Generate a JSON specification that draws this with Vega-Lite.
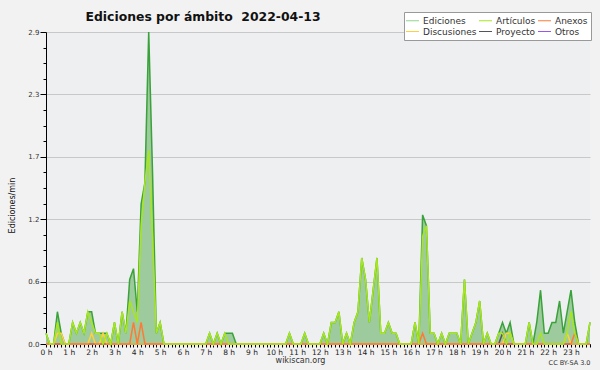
{
"$schema": "https://vega.github.io/schema/vega-lite/v6.json",
"width": 544, "height": 312,
"autosize": {"type": "none"},
"padding": {"left": 46, "top": 32, "right": 10, "bottom": 26},
"background": "#f2f2f2",
"config": {
  "view": {"fill": "#eeeff1", "stroke": null},
  "axis": {"labelFont": "DejaVu Sans", "titleFont": "DejaVu Sans", "zindex": 1}
},
"data": {"values": [
{"m":0,"Ediciones":0.1,"Artículos":0.1,"Anexos":0,"Discusiones":0,"Proyecto":0,"Otros":0},
{"m":10,"Ediciones":0,"Artículos":0,"Anexos":0,"Discusiones":0,"Proyecto":0,"Otros":0},
{"m":20,"Ediciones":0,"Artículos":0,"Anexos":0,"Discusiones":0,"Proyecto":0,"Otros":0},
{"m":30,"Ediciones":0.3,"Artículos":0.2,"Anexos":0,"Discusiones":0.1,"Proyecto":0,"Otros":0},
{"m":40,"Ediciones":0.1,"Artículos":0,"Anexos":0,"Discusiones":0.1,"Proyecto":0,"Otros":0},
{"m":50,"Ediciones":0,"Artículos":0,"Anexos":0,"Discusiones":0,"Proyecto":0,"Otros":0},
{"m":60,"Ediciones":0,"Artículos":0,"Anexos":0,"Discusiones":0,"Proyecto":0,"Otros":0},
{"m":70,"Ediciones":0.2,"Artículos":0.2,"Anexos":0,"Discusiones":0,"Proyecto":0,"Otros":0},
{"m":80,"Ediciones":0.1,"Artículos":0.1,"Anexos":0,"Discusiones":0,"Proyecto":0,"Otros":0},
{"m":90,"Ediciones":0.2,"Artículos":0.2,"Anexos":0,"Discusiones":0,"Proyecto":0,"Otros":0},
{"m":100,"Ediciones":0.1,"Artículos":0.1,"Anexos":0,"Discusiones":0,"Proyecto":0,"Otros":0},
{"m":110,"Ediciones":0.3,"Artículos":0.3,"Anexos":0,"Discusiones":0,"Proyecto":0,"Otros":0},
{"m":120,"Ediciones":0.3,"Artículos":0.2,"Anexos":0,"Discusiones":0.1,"Proyecto":0,"Otros":0},
{"m":130,"Ediciones":0.1,"Artículos":0.1,"Anexos":0,"Discusiones":0,"Proyecto":0,"Otros":0},
{"m":140,"Ediciones":0.1,"Artículos":0.1,"Anexos":0,"Discusiones":0,"Proyecto":0,"Otros":0},
{"m":150,"Ediciones":0.1,"Artículos":0,"Anexos":0,"Discusiones":0.1,"Proyecto":0,"Otros":0},
{"m":160,"Ediciones":0.1,"Artículos":0.1,"Anexos":0,"Discusiones":0,"Proyecto":0,"Otros":0},
{"m":170,"Ediciones":0,"Artículos":0,"Anexos":0,"Discusiones":0,"Proyecto":0,"Otros":0},
{"m":180,"Ediciones":0.2,"Artículos":0.2,"Anexos":0,"Discusiones":0,"Proyecto":0,"Otros":0},
{"m":190,"Ediciones":0,"Artículos":0,"Anexos":0,"Discusiones":0,"Proyecto":0,"Otros":0},
{"m":200,"Ediciones":0.3,"Artículos":0.3,"Anexos":0,"Discusiones":0,"Proyecto":0,"Otros":0},
{"m":210,"Ediciones":0.1,"Artículos":0.1,"Anexos":0,"Discusiones":0,"Proyecto":0,"Otros":0},
{"m":220,"Ediciones":0.6,"Artículos":0.4,"Anexos":0,"Discusiones":0,"Proyecto":0,"Otros":0},
{"m":230,"Ediciones":0.7,"Artículos":0.3,"Anexos":0.2,"Discusiones":0,"Proyecto":0,"Otros":0},
{"m":240,"Ediciones":0.3,"Artículos":0.2,"Anexos":0,"Discusiones":0,"Proyecto":0,"Otros":0},
{"m":250,"Ediciones":1.3,"Artículos":1.1,"Anexos":0.2,"Discusiones":0,"Proyecto":0,"Otros":0},
{"m":260,"Ediciones":1.5,"Artículos":1.5,"Anexos":0,"Discusiones":0,"Proyecto":0,"Otros":0},
{"m":270,"Ediciones":2.9,"Artículos":1.8,"Anexos":0,"Discusiones":0,"Proyecto":0,"Otros":0},
{"m":280,"Ediciones":1.6,"Artículos":1.0,"Anexos":0,"Discusiones":0,"Proyecto":0,"Otros":0},
{"m":290,"Ediciones":0.1,"Artículos":0.1,"Anexos":0,"Discusiones":0,"Proyecto":0,"Otros":0},
{"m":300,"Ediciones":0.2,"Artículos":0.2,"Anexos":0,"Discusiones":0,"Proyecto":0,"Otros":0},
{"m":310,"Ediciones":0,"Artículos":0,"Anexos":0,"Discusiones":0,"Proyecto":0,"Otros":0},
{"m":320,"Ediciones":0,"Artículos":0,"Anexos":0,"Discusiones":0,"Proyecto":0,"Otros":0},
{"m":330,"Ediciones":0,"Artículos":0,"Anexos":0,"Discusiones":0,"Proyecto":0,"Otros":0},
{"m":340,"Ediciones":0,"Artículos":0,"Anexos":0,"Discusiones":0,"Proyecto":0,"Otros":0},
{"m":350,"Ediciones":0,"Artículos":0,"Anexos":0,"Discusiones":0,"Proyecto":0,"Otros":0},
{"m":360,"Ediciones":0,"Artículos":0,"Anexos":0,"Discusiones":0,"Proyecto":0,"Otros":0},
{"m":370,"Ediciones":0,"Artículos":0,"Anexos":0,"Discusiones":0,"Proyecto":0,"Otros":0},
{"m":380,"Ediciones":0,"Artículos":0,"Anexos":0,"Discusiones":0,"Proyecto":0,"Otros":0},
{"m":390,"Ediciones":0,"Artículos":0,"Anexos":0,"Discusiones":0,"Proyecto":0,"Otros":0},
{"m":400,"Ediciones":0,"Artículos":0,"Anexos":0,"Discusiones":0,"Proyecto":0,"Otros":0},
{"m":410,"Ediciones":0,"Artículos":0,"Anexos":0,"Discusiones":0,"Proyecto":0,"Otros":0},
{"m":420,"Ediciones":0,"Artículos":0,"Anexos":0,"Discusiones":0,"Proyecto":0,"Otros":0},
{"m":430,"Ediciones":0.1,"Artículos":0.1,"Anexos":0,"Discusiones":0,"Proyecto":0,"Otros":0},
{"m":440,"Ediciones":0,"Artículos":0,"Anexos":0,"Discusiones":0,"Proyecto":0,"Otros":0},
{"m":450,"Ediciones":0.1,"Artículos":0.1,"Anexos":0,"Discusiones":0,"Proyecto":0,"Otros":0},
{"m":460,"Ediciones":0,"Artículos":0,"Anexos":0,"Discusiones":0,"Proyecto":0,"Otros":0},
{"m":470,"Ediciones":0.1,"Artículos":0.1,"Anexos":0,"Discusiones":0,"Proyecto":0,"Otros":0},
{"m":480,"Ediciones":0.1,"Artículos":0,"Anexos":0,"Discusiones":0,"Proyecto":0,"Otros":0},
{"m":490,"Ediciones":0.1,"Artículos":0,"Anexos":0,"Discusiones":0,"Proyecto":0,"Otros":0},
{"m":500,"Ediciones":0,"Artículos":0,"Anexos":0,"Discusiones":0,"Proyecto":0,"Otros":0},
{"m":510,"Ediciones":0,"Artículos":0,"Anexos":0,"Discusiones":0,"Proyecto":0,"Otros":0},
{"m":520,"Ediciones":0,"Artículos":0,"Anexos":0,"Discusiones":0,"Proyecto":0,"Otros":0},
{"m":530,"Ediciones":0,"Artículos":0,"Anexos":0,"Discusiones":0,"Proyecto":0,"Otros":0},
{"m":540,"Ediciones":0,"Artículos":0,"Anexos":0,"Discusiones":0,"Proyecto":0,"Otros":0},
{"m":550,"Ediciones":0,"Artículos":0,"Anexos":0,"Discusiones":0,"Proyecto":0,"Otros":0},
{"m":560,"Ediciones":0,"Artículos":0,"Anexos":0,"Discusiones":0,"Proyecto":0,"Otros":0},
{"m":570,"Ediciones":0,"Artículos":0,"Anexos":0,"Discusiones":0,"Proyecto":0,"Otros":0},
{"m":580,"Ediciones":0,"Artículos":0,"Anexos":0,"Discusiones":0,"Proyecto":0,"Otros":0},
{"m":590,"Ediciones":0,"Artículos":0,"Anexos":0,"Discusiones":0,"Proyecto":0,"Otros":0},
{"m":600,"Ediciones":0,"Artículos":0,"Anexos":0,"Discusiones":0,"Proyecto":0,"Otros":0},
{"m":610,"Ediciones":0,"Artículos":0,"Anexos":0,"Discusiones":0,"Proyecto":0,"Otros":0},
{"m":620,"Ediciones":0,"Artículos":0,"Anexos":0,"Discusiones":0,"Proyecto":0,"Otros":0},
{"m":630,"Ediciones":0,"Artículos":0,"Anexos":0,"Discusiones":0,"Proyecto":0,"Otros":0},
{"m":640,"Ediciones":0.1,"Artículos":0.1,"Anexos":0,"Discusiones":0,"Proyecto":0,"Otros":0},
{"m":650,"Ediciones":0,"Artículos":0,"Anexos":0,"Discusiones":0,"Proyecto":0,"Otros":0},
{"m":660,"Ediciones":0,"Artículos":0,"Anexos":0,"Discusiones":0,"Proyecto":0,"Otros":0},
{"m":670,"Ediciones":0,"Artículos":0,"Anexos":0,"Discusiones":0,"Proyecto":0,"Otros":0},
{"m":680,"Ediciones":0.1,"Artículos":0.1,"Anexos":0,"Discusiones":0,"Proyecto":0,"Otros":0},
{"m":690,"Ediciones":0,"Artículos":0,"Anexos":0,"Discusiones":0,"Proyecto":0,"Otros":0},
{"m":700,"Ediciones":0,"Artículos":0,"Anexos":0,"Discusiones":0,"Proyecto":0,"Otros":0},
{"m":710,"Ediciones":0,"Artículos":0,"Anexos":0,"Discusiones":0,"Proyecto":0,"Otros":0},
{"m":720,"Ediciones":0,"Artículos":0,"Anexos":0,"Discusiones":0,"Proyecto":0,"Otros":0},
{"m":730,"Ediciones":0.1,"Artículos":0.1,"Anexos":0,"Discusiones":0,"Proyecto":0,"Otros":0},
{"m":740,"Ediciones":0,"Artículos":0,"Anexos":0,"Discusiones":0,"Proyecto":0,"Otros":0},
{"m":750,"Ediciones":0.2,"Artículos":0.2,"Anexos":0,"Discusiones":0,"Proyecto":0,"Otros":0},
{"m":760,"Ediciones":0.2,"Artículos":0.2,"Anexos":0,"Discusiones":0,"Proyecto":0,"Otros":0},
{"m":770,"Ediciones":0.3,"Artículos":0.3,"Anexos":0,"Discusiones":0,"Proyecto":0,"Otros":0},
{"m":780,"Ediciones":0,"Artículos":0,"Anexos":0,"Discusiones":0,"Proyecto":0,"Otros":0},
{"m":790,"Ediciones":0.1,"Artículos":0.1,"Anexos":0,"Discusiones":0,"Proyecto":0,"Otros":0},
{"m":800,"Ediciones":0,"Artículos":0,"Anexos":0,"Discusiones":0,"Proyecto":0,"Otros":0},
{"m":810,"Ediciones":0.2,"Artículos":0.2,"Anexos":0,"Discusiones":0,"Proyecto":0,"Otros":0},
{"m":820,"Ediciones":0.3,"Artículos":0.3,"Anexos":0,"Discusiones":0,"Proyecto":0,"Otros":0},
{"m":830,"Ediciones":0.8,"Artículos":0.8,"Anexos":0,"Discusiones":0,"Proyecto":0,"Otros":0},
{"m":840,"Ediciones":0.6,"Artículos":0.6,"Anexos":0,"Discusiones":0,"Proyecto":0,"Otros":0},
{"m":850,"Ediciones":0.2,"Artículos":0.2,"Anexos":0,"Discusiones":0,"Proyecto":0,"Otros":0},
{"m":860,"Ediciones":0.5,"Artículos":0.5,"Anexos":0,"Discusiones":0,"Proyecto":0,"Otros":0},
{"m":870,"Ediciones":0.8,"Artículos":0.8,"Anexos":0,"Discusiones":0,"Proyecto":0,"Otros":0},
{"m":880,"Ediciones":0.1,"Artículos":0.1,"Anexos":0,"Discusiones":0,"Proyecto":0,"Otros":0},
{"m":890,"Ediciones":0.1,"Artículos":0.1,"Anexos":0,"Discusiones":0,"Proyecto":0,"Otros":0},
{"m":900,"Ediciones":0.2,"Artículos":0.2,"Anexos":0,"Discusiones":0,"Proyecto":0,"Otros":0},
{"m":910,"Ediciones":0.1,"Artículos":0.1,"Anexos":0,"Discusiones":0,"Proyecto":0,"Otros":0},
{"m":920,"Ediciones":0.1,"Artículos":0.1,"Anexos":0,"Discusiones":0,"Proyecto":0,"Otros":0},
{"m":930,"Ediciones":0,"Artículos":0,"Anexos":0,"Discusiones":0,"Proyecto":0,"Otros":0},
{"m":940,"Ediciones":0,"Artículos":0,"Anexos":0,"Discusiones":0,"Proyecto":0,"Otros":0},
{"m":950,"Ediciones":0,"Artículos":0,"Anexos":0,"Discusiones":0,"Proyecto":0,"Otros":0},
{"m":960,"Ediciones":0,"Artículos":0,"Anexos":0,"Discusiones":0,"Proyecto":0,"Otros":0},
{"m":970,"Ediciones":0.2,"Artículos":0.2,"Anexos":0,"Discusiones":0,"Proyecto":0,"Otros":0},
{"m":980,"Ediciones":0,"Artículos":0,"Anexos":0,"Discusiones":0,"Proyecto":0,"Otros":0},
{"m":990,"Ediciones":1.2,"Artículos":1.0,"Anexos":0.1,"Discusiones":0,"Proyecto":0,"Otros":0},
{"m":1000,"Ediciones":1.1,"Artículos":1.1,"Anexos":0,"Discusiones":0,"Proyecto":0,"Otros":0},
{"m":1010,"Ediciones":0.1,"Artículos":0.1,"Anexos":0,"Discusiones":0,"Proyecto":0,"Otros":0},
{"m":1020,"Ediciones":0.1,"Artículos":0.1,"Anexos":0,"Discusiones":0,"Proyecto":0,"Otros":0},
{"m":1030,"Ediciones":0,"Artículos":0,"Anexos":0,"Discusiones":0,"Proyecto":0,"Otros":0},
{"m":1040,"Ediciones":0.1,"Artículos":0.1,"Anexos":0,"Discusiones":0,"Proyecto":0,"Otros":0},
{"m":1050,"Ediciones":0,"Artículos":0,"Anexos":0,"Discusiones":0,"Proyecto":0,"Otros":0},
{"m":1060,"Ediciones":0.1,"Artículos":0.1,"Anexos":0,"Discusiones":0,"Proyecto":0,"Otros":0},
{"m":1070,"Ediciones":0.1,"Artículos":0.1,"Anexos":0,"Discusiones":0,"Proyecto":0,"Otros":0},
{"m":1080,"Ediciones":0.1,"Artículos":0.1,"Anexos":0,"Discusiones":0,"Proyecto":0,"Otros":0},
{"m":1090,"Ediciones":0,"Artículos":0,"Anexos":0,"Discusiones":0,"Proyecto":0,"Otros":0},
{"m":1100,"Ediciones":0.6,"Artículos":0.6,"Anexos":0,"Discusiones":0,"Proyecto":0,"Otros":0},
{"m":1110,"Ediciones":0,"Artículos":0,"Anexos":0,"Discusiones":0,"Proyecto":0,"Otros":0},
{"m":1120,"Ediciones":0.1,"Artículos":0.1,"Anexos":0,"Discusiones":0,"Proyecto":0,"Otros":0},
{"m":1130,"Ediciones":0.2,"Artículos":0.2,"Anexos":0,"Discusiones":0,"Proyecto":0,"Otros":0},
{"m":1140,"Ediciones":0.4,"Artículos":0.4,"Anexos":0,"Discusiones":0,"Proyecto":0,"Otros":0},
{"m":1150,"Ediciones":0,"Artículos":0,"Anexos":0,"Discusiones":0,"Proyecto":0,"Otros":0},
{"m":1160,"Ediciones":0.1,"Artículos":0.1,"Anexos":0,"Discusiones":0,"Proyecto":0,"Otros":0},
{"m":1170,"Ediciones":0,"Artículos":0,"Anexos":0,"Discusiones":0,"Proyecto":0,"Otros":0},
{"m":1180,"Ediciones":0,"Artículos":0,"Anexos":0,"Discusiones":0,"Proyecto":0,"Otros":0},
{"m":1190,"Ediciones":0.1,"Artículos":0.1,"Anexos":0,"Discusiones":0,"Proyecto":0,"Otros":0},
{"m":1200,"Ediciones":0.2,"Artículos":0.1,"Anexos":0,"Discusiones":0,"Proyecto":0.1,"Otros":0},
{"m":1210,"Ediciones":0.1,"Artículos":0,"Anexos":0,"Discusiones":0.1,"Proyecto":0,"Otros":0},
{"m":1220,"Ediciones":0.2,"Artículos":0.1,"Anexos":0,"Discusiones":0.1,"Proyecto":0,"Otros":0},
{"m":1230,"Ediciones":0,"Artículos":0,"Anexos":0,"Discusiones":0,"Proyecto":0,"Otros":0},
{"m":1240,"Ediciones":0,"Artículos":0,"Anexos":0,"Discusiones":0,"Proyecto":0,"Otros":0},
{"m":1250,"Ediciones":0,"Artículos":0,"Anexos":0,"Discusiones":0,"Proyecto":0,"Otros":0},
{"m":1260,"Ediciones":0,"Artículos":0,"Anexos":0,"Discusiones":0,"Proyecto":0,"Otros":0},
{"m":1270,"Ediciones":0.2,"Artículos":0.2,"Anexos":0,"Discusiones":0,"Proyecto":0,"Otros":0},
{"m":1280,"Ediciones":0,"Artículos":0,"Anexos":0,"Discusiones":0,"Proyecto":0,"Otros":0},
{"m":1290,"Ediciones":0.2,"Artículos":0,"Anexos":0,"Discusiones":0,"Proyecto":0,"Otros":0},
{"m":1300,"Ediciones":0.5,"Artículos":0.1,"Anexos":0,"Discusiones":0,"Proyecto":0,"Otros":0},
{"m":1310,"Ediciones":0.1,"Artículos":0,"Anexos":0,"Discusiones":0,"Proyecto":0,"Otros":0},
{"m":1320,"Ediciones":0.1,"Artículos":0,"Anexos":0,"Discusiones":0,"Proyecto":0,"Otros":0},
{"m":1330,"Ediciones":0.2,"Artículos":0,"Anexos":0,"Discusiones":0,"Proyecto":0,"Otros":0},
{"m":1340,"Ediciones":0.2,"Artículos":0,"Anexos":0,"Discusiones":0,"Proyecto":0,"Otros":0},
{"m":1350,"Ediciones":0.4,"Artículos":0,"Anexos":0,"Discusiones":0,"Proyecto":0,"Otros":0},
{"m":1360,"Ediciones":0.1,"Artículos":0,"Anexos":0,"Discusiones":0,"Proyecto":0,"Otros":0},
{"m":1370,"Ediciones":0.3,"Artículos":0.1,"Anexos":0,"Discusiones":0.1,"Proyecto":0,"Otros":0},
{"m":1380,"Ediciones":0.5,"Artículos":0.3,"Anexos":0,"Discusiones":0,"Proyecto":0,"Otros":0},
{"m":1390,"Ediciones":0.2,"Artículos":0.1,"Anexos":0.1,"Discusiones":0,"Proyecto":0,"Otros":0},
{"m":1400,"Ediciones":0,"Artículos":0,"Anexos":0,"Discusiones":0,"Proyecto":0,"Otros":0},
{"m":1410,"Ediciones":0,"Artículos":0,"Anexos":0,"Discusiones":0,"Proyecto":0,"Otros":0},
{"m":1420,"Ediciones":0,"Artículos":0,"Anexos":0,"Discusiones":0,"Proyecto":0,"Otros":0},
{"m":1430,"Ediciones":0.2,"Artículos":0.2,"Anexos":0,"Discusiones":0,"Proyecto":0,"Otros":0}
]},
"layer": [
  {"mark": {"type": "area", "color": "#9dcb9d", "opacity": 1},
   "encoding": {
    "x": {"field": "m", "type": "quantitative", "scale": {"domain": [0, 1430], "nice": false, "zero": false},
     "axis": {"values": [0,10,20,30,40,50,60,70,80,90,100,110,120,130,140,150,160,170,180,190,200,210,220,230,240,250,260,270,280,290,300,310,320,330,340,350,360,370,380,390,400,410,420,430,440,450,460,470,480,490,500,510,520,530,540,550,560,570,580,590,600,610,620,630,640,650,660,670,680,690,700,710,720,730,740,750,760,770,780,790,800,810,820,830,840,850,860,870,880,890,900,910,920,930,940,950,960,970,980,990,1000,1010,1020,1030,1040,1050,1060,1070,1080,1090,1100,1110,1120,1130,1140,1150,1160,1170,1180,1190,1200,1210,1220,1230,1240,1250,1260,1270,1280,1290,1300,1310,1320,1330,1340,1350,1360,1370,1380,1390,1400,1410,1420,1430],
      "labelExpr": "datum.value % 60 == 0 ? (datum.value / 60) + ' h' : ''",
      "labelOverlap": false, "labelFlush": false, "labelFontSize": 7.5, "labelColor": "#222222", "labelPadding": 1,
      "tickSize": 3, "tickColor": "#000000", "domainColor": "#000000", "grid": false,
      "title": "wikiscan.org", "titleFontSize": 8, "titleFontWeight": "normal", "titleColor": "#333333",
      "titleX": 254, "titleY": 12, "titleAlign": "center", "titleBaseline": "top"}},
    "y": {"field": "Ediciones", "type": "quantitative", "scale": {"domain": [0, 2.9], "nice": false},
     "axis": {"values": [0,0.145,0.29,0.435,0.58,0.725,0.87,1.015,1.16,1.305,1.45,1.595,1.74,1.885,2.03,2.175,2.32,2.465,2.61,2.755,2.9],
       "labelExpr": "abs(datum.value/0.58 - round(datum.value/0.58)) < 0.01 ? format(datum.value, '.1f') : ''",
       "tickSize": {"condition": {"test": "abs(datum.value/0.58 - round(datum.value/0.58)) < 0.01", "value": 6}, "value": 3},
       "gridOpacity": {"condition": {"test": "abs(datum.value/0.58 - round(datum.value/0.58)) < 0.01", "value": 1}, "value": 0},
       "grid": true, "gridColor": "#c8c8c8", "gridWidth": 1,
       "labelOverlap": false, "labelFontSize": 7, "labelColor": "#333333", "labelPadding": 1,
       "tickColor": "#000000", "domainColor": "#000000",
       "title": "Ediciones/min", "titleFontSize": 8, "titleFontWeight": "normal", "titleColor": "#111111",
       "titleAngle": 270, "titleX": -32, "titleY": 173, "titleAlign": "center", "titleBaseline": "alphabetic"}}}},
  {"mark": {"type": "line", "color": "#3aa23a", "strokeWidth": 1.5},
   "encoding": {
    "x": {"field": "m", "type": "quantitative", "scale": {"domain": [0, 1430], "nice": false, "zero": false}, "axis": null},
    "y": {"field": "Ediciones", "type": "quantitative", "scale": {"domain": [0, 2.9], "nice": false}, "axis": null}}},
  {"transform": [{"fold": ["Otros", "Proyecto", "Discusiones", "Anexos", "Artículos"], "as": ["ambito", "valor"]}],
   "mark": {"type": "line", "strokeWidth": 1.5},
   "encoding": {
     "x": {"field": "m", "type": "quantitative", "scale": {"domain": [0, 1430], "nice": false, "zero": false}, "axis": null},
     "y": {"field": "valor", "type": "quantitative", "scale": {"domain": [0, 2.9], "nice": false}, "axis": null},
     "color": {"field": "ambito", "type": "nominal",
       "scale": {"domain": ["Ediciones", "Artículos", "Anexos", "Discusiones", "Proyecto", "Otros"],
                 "range": ["#8fd48f", "#a8e61e", "#ff7a36", "#ffd03c", "#555555", "#9b55ee"]},
       "legend": {"title": null, "orient": "none", "legendX": 358, "legendY": -20, "direction": "horizontal", "columns": 3,
         "symbolType": "M-1.3,0H1.3", "symbolSize": 100, "symbolStrokeWidth": 1, "labelFont": "DejaVu Sans", "labelFontSize": 9,
         "labelColor": "#333333", "labelOffset": 5, "fillColor": "#ffffff", "strokeColor": "#999999", "padding": 3,
         "rowPadding": 0, "columnPadding": 0, "labelLimit": 200}}}},
  {"mark": {"type": "line", "opacity": 0},
   "encoding": {
    "x": {"field": "m", "type": "quantitative", "scale": {"domain": [0, 1430], "nice": false, "zero": false},
     "axis": {"orient": "top", "domain": false, "ticks": false, "labels": false, "grid": false,
       "title": "Ediciones por ámbito\u00a0\u00a02022-04-13", "titleFont": "DejaVu Sans", "titleFontSize": 12.4, "titleFontWeight": "bold", "titleColor": "#111111",
       "titleX": 39, "titleY": -12, "titleAlign": "left", "titleBaseline": "alphabetic", "titleAngle": 0}},
    "y": {"field": "Ediciones", "type": "quantitative", "scale": {"domain": [0, 2.9], "nice": false},
     "axis": {"orient": "right", "domain": false, "ticks": false, "labels": false, "grid": false,
       "title": "CC BY-SA 3.0", "titleAngle": 0, "titleFontSize": 6.5, "titleFontWeight": "normal", "titleColor": "#333333",
       "titleX": 0, "titleY": 327, "titleAlign": "right", "titleBaseline": "top"}}}}
],
"resolve": {"axis": {"x": "independent", "y": "independent"}}
}
